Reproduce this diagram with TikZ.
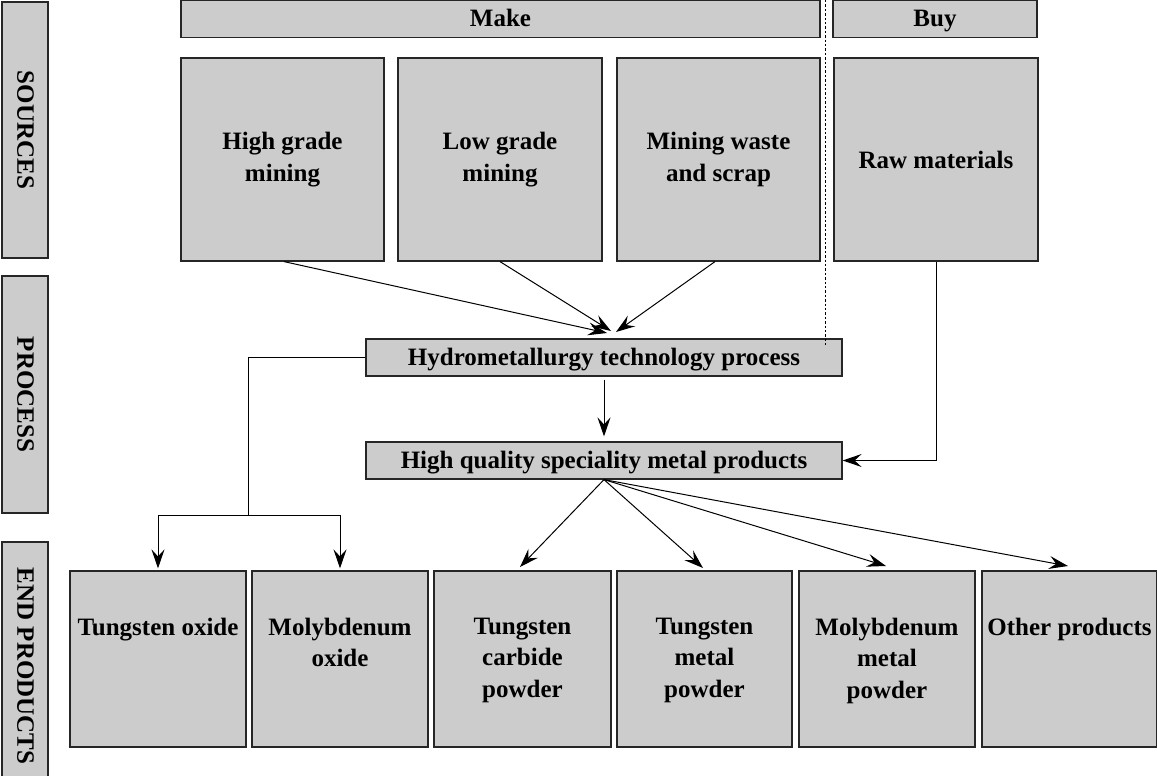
\documentclass[tikz,border=0pt]{standalone}
\usepackage{fontspec}
\setmainfont{Liberation Serif}
\usetikzlibrary{arrows.meta,calc}
\begin{document}
\begin{tikzpicture}[x=0.5pt,y=-0.5pt,
  txt/.style={font=\fontsize{12.5}{15.6}\selectfont\bfseries, align=center},
  box/.style={txt, draw=black!85, fill=black!20, line width=0.6pt, inner sep=0pt},
  bar/.style={box, text height=9pt, text depth=1.5pt},
  lab/.style={txt, inner sep=0pt},
  side/.style={bar, rotate=-90, minimum height=23pt},
  arr/.style={line width=0.5pt, -{Stealth[length=9.5pt,width=6.5pt,inset=3.5pt]}},
  plain/.style={line width=0.5pt}]
\useasboundingbox (0,0) rectangle (1157,776);
\clip (0,0) rectangle (1157,776);
% side labels
\node[side, minimum width=128pt] (srcL) at (25,130) {SOURCES};
\node[side, minimum width=118.5pt] (procL) at (25,394.5) {PROCESS};
\node[side, minimum width=124pt] (endL) at (25,666) {END PRODUCTS};
% top bars
\node[bar, minimum width=319.5pt, minimum height=18.5pt] (make) at (500.5,19) {Make};
\node[bar, minimum width=102pt, minimum height=18.5pt] (buy) at (935,19) {Buy};
% sources
\node[box, minimum width=101.5pt, minimum height=101.5pt] (hg) at (282.5,159.5) {High grade\\mining};
\node[box, minimum width=102pt, minimum height=101.5pt] (lg) at (500,159.5) {Low grade\\mining};
\node[box, minimum width=101.5pt, minimum height=101.5pt] (mw) at (718.5,159.5) {Mining waste\\and scrap};
\node[box, minimum width=102pt, minimum height=101.5pt] (raw) at (936,159.5) {Raw materials};
% process
\node[bar, minimum width=238pt, minimum height=18.5pt] (hydro) at (604,357.5) {Hydrometallurgy technology process};
\node[bar, minimum width=238pt, minimum height=18.5pt] (hq) at (604,460.5) {High quality speciality metal products};
% end products
\node[box, minimum width=88pt, minimum height=88pt] (to) at (158,659) {};
\node[box, minimum width=88pt, minimum height=88pt] (mo) at (340,659) {};
\node[box, minimum width=88.5pt, minimum height=88pt] (tc) at (522.5,659) {};
\node[box, minimum width=87.5pt, minimum height=88pt] (tm) at (704.5,659) {};
\node[box, minimum width=88pt, minimum height=88pt] (mm) at (887,659) {};
\node[box, minimum width=87.5pt, minimum height=88pt] (op) at (1069.5,659) {};
\node[lab, anchor=north] (toT) at (158,618) {Tungsten oxide};
\node[lab, anchor=north] (moT) at (340,618) {Molybdenum\\oxide};
\node[lab, anchor=north] (tcT) at (522.5,618) {Tungsten\\carbide\\powder};
\node[lab, anchor=north] (tmT) at (704.5,618) {Tungsten\\metal\\powder};
\node[lab, anchor=north] (mmT) at (887,618) {Molybdenum\\metal\\powder};
\node[lab, anchor=north] (opT) at (1069.5,618) {Other products};
% dotted divider
\coordinate (d1) at (825,0);
\coordinate (d2) at (825,345);
\draw[line width=0.4pt, dash pattern=on 1.2pt off 1pt] (d1) -- (d2);
% arrows into hydrometallurgy
\coordinate (a1) at (607,333);
\coordinate (a2) at (611,331);
\coordinate (a3) at (616,332);
\draw[arr] ($(hg.south)+(1.5,0)$) -- (a1);
\draw[arr] (lg.south) -- (a2);
\draw[arr] ($(mw.south)+(-3.5,0)$) -- (a3);
\draw[arr, shorten <=1.5pt, shorten >=2.5pt] (hydro.south) -- (hq.north);
\draw[arr] (raw.south) |- (hq.east);
% oxide branch
\coordinate (j) at (248,515);
\draw[plain] (hydro.west) -| (j);
\draw[arr, shorten >=1pt] (j) -| (to.north);
\draw[arr, shorten >=1pt] (j) -| (mo.north);
% fan out
\coordinate (b1) at (520,567);
\coordinate (b2) at (703,568);
\coordinate (b3) at (886,566);
\coordinate (b4) at (1068,566);
\draw[arr] (hq.south) -- (b1);
\draw[arr] (hq.south) -- (b2);
\draw[arr] (hq.south) -- (b3);
\draw[arr] (hq.south) -- (b4);
\end{tikzpicture}
\end{document}
